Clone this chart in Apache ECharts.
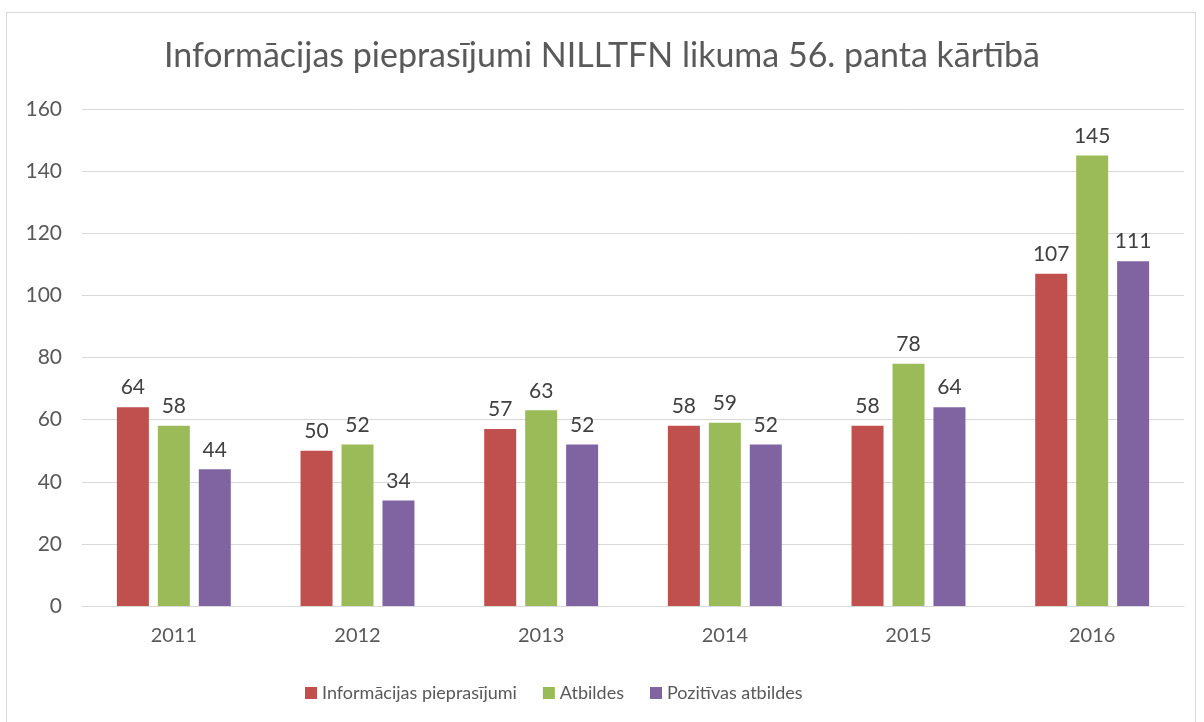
<!DOCTYPE html>
<html>
<head>
<meta charset="utf-8">
<script src="https://cdn.jsdelivr.net/npm/echarts@6/dist/echarts.min.js"></script>
<style>
  html, body { margin: 0; padding: 0; background: #fff; }
  #frame { position: absolute; left: 6px; top: 12px; width: 1190px; height: 716px; border: 1px solid #d9d9d9; box-sizing: border-box; }
  #chart { position: absolute; left: 0; top: 0; width: 1204px; height: 722px; }
</style>
</head>
<body>
<div id="frame"></div>
<div id="chart"></div>
<script>
const years = ["2011", "2012", "2013", "2014", "2015", "2016"];
const requests = [64, 50, 57, 58, 58, 107];
const answers = [58, 52, 63, 59, 78, 145];
const positive = [44, 34, 52, 52, 64, 111];

const font = "Lato, 'Open Sans', sans-serif";
let chart = echarts.init(document.getElementById("chart"));

function bar(name, color, data) {
  return {
    name: name,
    type: "bar",
    data: data,
    barWidth: 32,
    barGap: "28%",
    itemStyle: { color: color },
    label: {
      show: true,
      position: "top",
      distance: 9,
      color: "#404040",
      fontSize: 21,
      fontFamily: font
    }
  };
}

chart.setOption({
  animation: false,
  title: {
    text: "Informācijas pieprasījumi NILLTFN likuma 56. panta kārtībā",
    left: "center",
    top: 34,
    textStyle: { fontSize: 34, fontWeight: "normal", color: "#595959", fontFamily: font }
  },
  legend: {
    top: 679,
    left: 300,
    itemWidth: 12,
    itemHeight: 12,
    itemGap: 26,
    icon: "rect",
    textStyle: { fontSize: 18, color: "#595959", fontFamily: font },
    data: ["Informācijas pieprasījumi", "Atbildes", "Pozitīvas atbildes"]
  },
  grid: { left: 82, right: 20, top: 109, bottom: 116 },
  xAxis: {
    type: "category",
    data: years,
    axisTick: { show: false },
    axisLine: { lineStyle: { color: "#d9d9d9" } },
    axisLabel: { margin: 20, fontSize: 20, color: "#595959", fontFamily: font }
  },
  yAxis: {
    type: "value",
    min: 0,
    max: 160,
    interval: 20,
    axisLine: { show: false },
    axisTick: { show: false },
    splitLine: { lineStyle: { color: "#d9d9d9" } },
    axisLabel: { margin: 20, fontSize: 21, color: "#595959", fontFamily: font }
  },
  series: [
    bar("Informācijas pieprasījumi", "#c0504d", requests),
    bar("Atbildes", "#9bbb59", answers),
    bar("Pozitīvas atbildes", "#8064a2", positive)
  ]
});
</script>
</body>
</html>
